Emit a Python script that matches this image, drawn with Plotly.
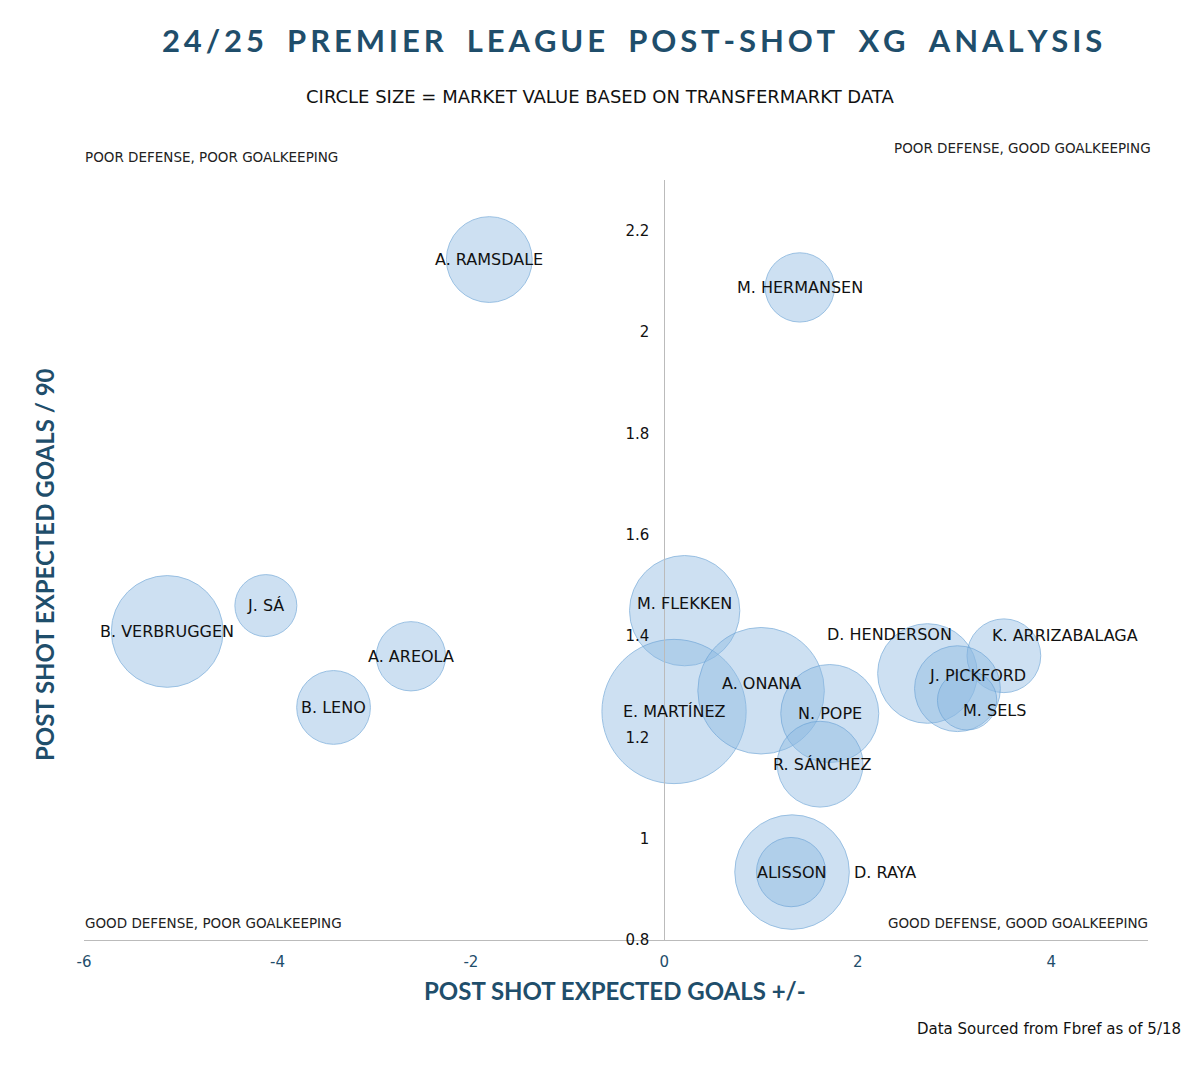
import plotly.graph_objects as go
import numpy as np

players = ["A. RAMSDALE","M. HERMANSEN","J. SÁ","B. VERBRUGGEN","A. AREOLA","B. LENO",
           "M. FLEKKEN","E. MARTÍNEZ","A. ONANA","N. POPE","R. SÁNCHEZ","D. HENDERSON",
           "K. ARRIZABALAGA","J. PICKFORD","M. SELS","D. RAYA","ALISSON"]
psxg_pm = [-1.81,1.40,-4.12,-5.14,-2.62,-3.42,0.21,0.10,1.00,1.71,1.61,2.72,3.51,3.03,3.13,1.32,1.31]
psxg_90 = [2.143,2.088,1.46,1.409,1.36,1.259,1.45,1.251,1.292,1.247,1.147,1.326,1.361,1.296,1.273,0.934,0.934]
market_value = [23,15,12,39,15,17,38,65,50,30,23,31,17,23,11,41,15]
label_dx = [0,0,0,0,0,0,0,0,0,0,2,-38,61,20,27,93,0]
label_dy = [0,0,0,0,0,0,7,0,7,0,0,39,20,13,-10,0,0]

teal = "#1f4e6b"
FONT = "DejaVu Sans"
sizes = [2*np.sqrt(v*80) for v in market_value]

fig = go.Figure(go.Scatter(
    x=psxg_pm, y=psxg_90, mode="markers",
    marker=dict(size=sizes, sizemode="diameter", color="rgba(140,186,226,0.62)",
                line=dict(color="rgba(100,158,212,0.9)", width=1)),
    hoverinfo="text", text=players))

ann = []
for p, x, y, dx, dy in zip(players, psxg_pm, psxg_90, label_dx, label_dy):
    ann.append(dict(x=x, y=y, text=p, showarrow=False, xshift=dx, yshift=dy,
                    font=dict(size=16, color="#111", family=FONT)))

OFF = 8
W, H = 1200 - OFF, 1071 - OFF
L, R, T, B = 84 - OFF, 52, 180 - OFF, 131
pw, ph = W-L-R, H-T-B
def px(xp): return (xp-OFF-L)/pw
def py(yp): return (H-B-(yp-OFF))/ph

def paper(text, x, y, size, color="#222", xanchor="center", family=FONT, **kw):
    ann.append(dict(text=text, x=x, y=y, xref="paper", yref="paper", showarrow=False,
                    xanchor=xanchor, yanchor="middle", font=dict(size=size, color=color, family=family), **kw))

paper("<b>2 4 / 2 5  P R E M I E R  L E A G U E  P O S T - S H O T  X G  A N A L Y S I S</b>".replace(" ", "\u2009").replace("\u2009\u2009", "\u2003"),
      px(632), py(40), 31, teal, family="Lato")
paper("CIRCLE SIZE = MARKET VALUE BASED ON TRANSFERMARKT DATA", px(600), py(96), 18, "#111")
paper("POOR DEFENSE, POOR GOALKEEPING", px(83), py(157), 13.5, "#222", "left")
paper("POOR DEFENSE, GOOD GOALKEEPING", px(1153), py(148), 13.5, "#222", "right")
paper("GOOD DEFENSE, POOR GOALKEEPING", px(83), py(923), 13.5, "#222", "left")
paper("GOOD DEFENSE, GOOD GOALKEEPING", px(1150), py(923), 13.5, "#222", "right")
paper("<b>POST SHOT EXPECTED GOALS +/-</b>", px(615), py(990), 24, teal, family="Lato")
paper("<b>POST SHOT EXPECTED GOALS / 90</b>", px(44), py(565), 24, teal, family="Lato", textangle=-90)
paper("Data Sourced from Fbref as of 5/18", px(1183), py(1029), 15, "#111", "right")

fig.update_layout(
    width=W, height=H, margin=dict(l=L, r=R, t=T, b=B),
    paper_bgcolor="white", plot_bgcolor="white", showlegend=False,
    annotations=ann,
    xaxis=dict(range=[-6, 5], tickvals=[-6,-4,-2,0,2,4], ticktext=["-6","-4","-2","0","2","4"],
               showgrid=False, zeroline=False, ticklabelstandoff=8,
               showline=True, linecolor="#bbb", ticks="", tickfont=dict(size=15, color=teal, family=FONT)),
    yaxis=dict(range=[0.8, 2.3], tickvals=[0.8,1,1.2,1.4,1.6,1.8,2,2.2], showgrid=False, zeroline=False,
               anchor="free", position=6/11, showline=True, linecolor="#bbb", ticks="", ticklabelstandoff=12,
               tickfont=dict(size=15, color="#111", family=FONT)),
)
fig.write_html("out.html")
